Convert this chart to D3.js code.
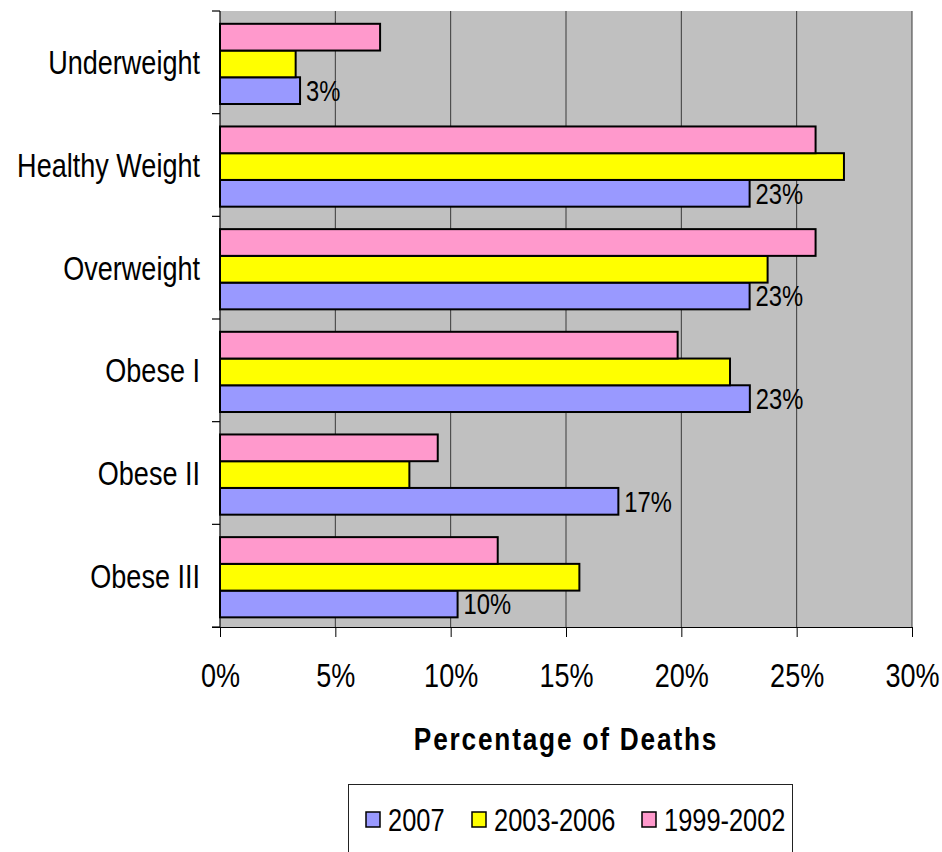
<!DOCTYPE html>
<html>
<head>
<meta charset="utf-8">
<script src="https://cdn.jsdelivr.net/npm/d3@7"></script>
<style>
  html, body { margin: 0; padding: 0; background: #fff; }
  svg { display: block; }
  text { font-family: "Liberation Sans", Arial, sans-serif; fill: #000; }
</style>
</head>
<body>
<svg id="chart" width="942" height="852"></svg>
<script>
// Share of deaths by weight category, three survey periods
const categories = ["Underweight", "Healthy Weight", "Overweight", "Obese I", "Obese II", "Obese III"];
const seriesNames = ["2007", "2003-2006", "1999-2002"];
const values2007 = [3.47, 22.96, 22.96, 22.97, 17.27, 10.30];
const values2003_2006 = [3.28, 27.05, 23.74, 22.11, 8.21, 15.58];
const values1999_2002 = [6.94, 25.82, 25.82, 19.84, 9.44, 12.04];
const xTickValues = [0, 5, 10, 15, 20, 25, 30];
const seriesColors = ["#9999ff", "#ffff00", "#ff99cc"];

const series = [
  { name: seriesNames[0], values: values2007, color: seriesColors[0], labelled: true },
  { name: seriesNames[1], values: values2003_2006, color: seriesColors[1], labelled: false },
  { name: seriesNames[2], values: values1999_2002, color: seriesColors[2], labelled: false }
];

// narrow-style lettering: regular sans squeezed horizontally
const NARROW = 0.82;

const svg = d3.select("#chart");
const plot = { left: 220, right: 912, top: 11, bottom: 627 };

const x = d3.scaleLinear().domain([0, 30]).range([plot.left, plot.right]);
const y = d3.scaleBand().domain(categories).range([plot.top, plot.bottom]).padding(0);
// inside each category the oldest period sits on top, 2007 at the bottom
const ySub = d3.scaleBand()
  .domain([seriesNames[2], seriesNames[1], seriesNames[0]])
  .range([0, y.bandwidth()])
  .paddingInner(0)
  .paddingOuter(0.42)
  .align(0.57);

// helper: place a squeezed text at (px, py)
function narrowText(sel, px, py) {
  return sel.attr("x", 0).attr("y", 0)
    .attr("transform", (d, i) => {
      const tx = typeof px === "function" ? px(d, i) : px;
      const ty = typeof py === "function" ? py(d, i) : py;
      return `translate(${tx},${ty}) scale(${NARROW},1)`;
    });
}

// plot background
svg.append("rect")
  .attr("x", plot.left).attr("y", plot.top)
  .attr("width", plot.right - plot.left).attr("height", plot.bottom - plot.top)
  .attr("fill", "#c0c0c0");

// vertical gridlines
svg.append("g").selectAll("line")
  .data(xTickValues.slice(1))
  .join("line")
  .attr("x1", d => x(d)).attr("x2", d => x(d))
  .attr("y1", plot.top).attr("y2", plot.bottom)
  .attr("stroke", "#3a3a3a").attr("stroke-width", 1);

// bars
series.forEach(s => {
  svg.append("g").selectAll("rect")
    .data(categories.map((c, i) => ({ c, v: s.values[i] })))
    .join("rect")
    .attr("x", x(0))
    .attr("y", d => y(d.c) + ySub(s.name))
    .attr("width", d => x(d.v) - x(0))
    .attr("height", ySub.bandwidth())
    .attr("fill", s.color)
    .attr("stroke", "#000")
    .attr("stroke-width", 2);
});

// value labels on the 2007 bars
const fmtPct = v => d3.format(".0f")(v) + "%";
series.filter(s => s.labelled).forEach(s => {
  const t = svg.append("g").selectAll("text")
    .data(categories.map((c, i) => ({ c, v: s.values[i] })))
    .join("text")
    .attr("dy", "0.36em")
    .attr("font-size", 29)
    .text(d => fmtPct(d.v));
  narrowText(t, d => x(d.v) + 6, d => y(d.c) + ySub(s.name) + ySub.bandwidth() / 2);
});

// x axis
const xAxis = d3.axisBottom(x)
  .tickValues(xTickValues)
  .tickSize(10)
  .tickPadding(27)
  .tickFormat(d => d + "%");
const gx = svg.append("g").attr("transform", `translate(0,${plot.bottom})`).call(xAxis);
gx.select(".domain").attr("stroke", "#000").attr("stroke-width", 1.2)
  .attr("d", `M${plot.left - 8},0.5H${plot.right}`);
gx.selectAll(".tick line").attr("stroke", "#000");
gx.selectAll(".tick text")
  .attr("font-size", 33).attr("font-family", null).attr("fill", "#000")
  .attr("transform", `scale(${NARROW},1)`);

// y axis: ticks at category boundaries
const yBoundaries = categories.map(c => y(c)).concat([plot.bottom]);
svg.append("line")
  .attr("x1", plot.left).attr("x2", plot.left)
  .attr("y1", plot.top).attr("y2", plot.bottom)
  .attr("stroke", "#000").attr("stroke-width", 1.2);
svg.append("g").selectAll("line")
  .data(yBoundaries)
  .join("line")
  .attr("x1", plot.left - 8).attr("x2", plot.left)
  .attr("y1", d => d).attr("y2", d => d)
  .attr("stroke", "#000").attr("stroke-width", 1.2);

const catText = svg.append("g").selectAll("text")
  .data(categories)
  .join("text")
  .attr("dy", "0.36em")
  .attr("text-anchor", "end")
  .attr("font-size", 33)
  .text(d => d);
narrowText(catText, 200, d => y(d) + y.bandwidth() / 2);

// axis title
narrowText(
  svg.append("text")
    .attr("text-anchor", "middle")
    .attr("font-size", 32)
    .attr("font-weight", "bold")
    .attr("letter-spacing", 2.2)
    .text("Percentage of Deaths"),
  566, 750);

// legend
const legend = svg.append("g");
legend.append("rect")
  .attr("x", 348.5).attr("y", 784.5)
  .attr("width", 444).attr("height", 100)
  .attr("fill", "#fff").attr("stroke", "#222").attr("stroke-width", 1);
const legendX = [366, 472, 642];
series.forEach((s, i) => {
  legend.append("rect")
    .attr("x", legendX[i]).attr("y", 812)
    .attr("width", 14).attr("height", 15)
    .attr("fill", s.color).attr("stroke", "#000").attr("stroke-width", 1.5);
  narrowText(
    legend.append("text").attr("font-size", 31).text(s.name),
    legendX[i] + 22, 831);
});
</script>
</body>
</html>
